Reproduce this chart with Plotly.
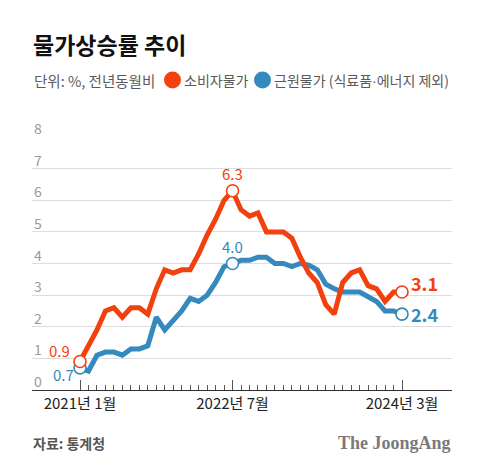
import plotly.graph_objects as go

# ---- data ----
months = [f"{y}-{m:02d}" for y in (2021, 2022, 2023, 2024) for m in range(1, 13)][:39]
cpi = [0.9, 1.4, 1.9, 2.5, 2.6, 2.3, 2.6, 2.6, 2.4, 3.2, 3.8, 3.7,
       3.8, 3.8, 4.3, 4.9, 5.4, 6.0, 6.3, 5.7, 5.5, 5.6, 5.0, 5.0,
       5.0, 4.8, 4.2, 3.7, 3.4, 2.7, 2.4, 3.4, 3.7, 3.8, 3.3, 3.2,
       2.8, 3.1, 3.1]
core = [0.7, 0.6, 1.1, 1.2, 1.2, 1.1, 1.3, 1.3, 1.4, 2.3, 1.9, 2.2,
        2.5, 2.9, 2.8, 3.0, 3.4, 3.9, 4.0, 4.1, 4.1, 4.2, 4.2, 4.0,
        4.0, 3.9, 4.0, 3.95, 3.8, 3.35, 3.2, 3.1, 3.1, 3.1, 2.95, 2.8,
        2.5, 2.5, 2.4]
tick_idx = [0, 18, 38]
tick_text = ["2021년 1월", "2022년 7월", "2024년 3월"]
y_ticks = [0, 1, 2, 3, 4, 5, 6, 7, 8]
mark_idx = [0, 18, 38]

RED = "#F2400F"
BLUE = "#3589BD"
FONT = "Noto Sans CJK KR"

W, H = 480, 473
L, R, T, B = 32, 28, 137, 83
PW, PH = W - L - R, H - T - B

def px(x):
    return (x - L) / PW

def py(y):
    return (H - B - y) / PH

x = list(range(len(months)))

fig = go.Figure()
fig.add_trace(go.Scatter(x=x, y=core, mode="lines",
                         line=dict(color=BLUE, width=5),
                         hoverinfo="skip", showlegend=False))
fig.add_trace(go.Scatter(x=x, y=cpi, mode="lines",
                         line=dict(color=RED, width=5),
                         hoverinfo="skip", showlegend=False))
fig.add_trace(go.Scatter(x=[x[i] for i in mark_idx], y=[core[i] for i in mark_idx],
                         mode="markers",
                         marker=dict(size=12, color="white", line=dict(color=BLUE, width=1.6)),
                         showlegend=False, hoverinfo="skip"))
fig.add_trace(go.Scatter(x=[x[i] for i in mark_idx], y=[cpi[i] for i in mark_idx],
                         mode="markers",
                         marker=dict(size=12, color="white", line=dict(color=RED, width=1.6)),
                         showlegend=False, hoverinfo="skip"))

ann = []
# y tick labels above grid lines
for v in y_ticks:
    ann.append(dict(x=0, xref="paper", xanchor="left", y=v, yref="y", yanchor="bottom",
                    yshift=-3, text=str(v), showarrow=False,
                    font=dict(family=FONT, size=14, color="#9a9a9a")))

# value labels
vals = [
    dict(x=x[0], y=cpi[0], text=f"{cpi[0]:.1f}", xanchor="right", yanchor="bottom",
         xshift=-8, yshift=-1, font=dict(family=FONT, size=15, color=RED)),
    dict(x=x[0], y=core[0], text=f"{core[0]:.1f}", xanchor="right", yanchor="top",
         xshift=-4, yshift=6, font=dict(family=FONT, size=15, color=BLUE)),
    dict(x=x[18], y=cpi[18], text=f"{cpi[18]:.1f}", xanchor="center", yanchor="bottom",
         yshift=5, font=dict(family=FONT, size=15, color=RED)),
    dict(x=x[18], y=core[18], text=f"{core[18]:.1f}", xanchor="center", yanchor="bottom",
         yshift=5, font=dict(family=FONT, size=15, color=BLUE)),
    dict(x=x[38], y=cpi[38], text=f"<b>{cpi[38]:.1f}</b>", xanchor="left", yanchor="middle",
         xshift=7, yshift=9, font=dict(family=FONT, size=18, color=RED)),
    dict(x=x[38], y=core[38], text=f"<b>{core[38]:.1f}</b>", xanchor="left", yanchor="middle",
         xshift=7, font=dict(family=FONT, size=18, color=BLUE)),
]
for a in vals:
    a.update(showarrow=False, xref="x", yref="y")
ann += vals

dot = '<span style="font-family:Liberation Sans">·</span>'
# title, subtitle/legend, source, logo
ann += [
    dict(x=px(31), y=py(44), xref="paper", yref="paper", xanchor="left", yanchor="middle",
         text="<b>물가상승률 추이</b>", showarrow=False,
         font=dict(family=FONT, size=23, color="#111", weight=900)),
    dict(x=px(32), y=py(80), xref="paper", yref="paper", xanchor="left", yanchor="middle",
         text="단위: %, 전년동월비", showarrow=False,
         font=dict(family=FONT, size=14.5, color="#5a5a5a")),
    dict(x=px(182), y=py(80), xref="paper", yref="paper", xanchor="left", yanchor="middle",
         text="소비자물가", showarrow=False,
         font=dict(family=FONT, size=14, color="#5a5a5a")),
    dict(x=px(272), y=py(80), xref="paper", yref="paper", xanchor="left", yanchor="middle",
         text=f"근원물가 (식료품{dot}에너지 제외)", showarrow=False,
         font=dict(family=FONT, size=14, color="#5a5a5a")),
    dict(x=px(31), y=py(443), xref="paper", yref="paper", xanchor="left", yanchor="middle",
         text="<b>자료: 통계청</b>", showarrow=False,
         font=dict(family=FONT, size=14, color="#555")),
    dict(x=px(453), y=py(443), xref="paper", yref="paper", xanchor="right", yanchor="middle",
         text="<b>The JoongAng</b>", showarrow=False,
         font=dict(family="Liberation Serif", size=18, color="#7a7a7a")),
]

shapes = [
    dict(type="circle", xref="paper", yref="paper",
         x0=px(164), x1=px(181), y0=py(88.5), y1=py(71.5),
         fillcolor=RED, line=dict(width=0)),
    dict(type="circle", xref="paper", yref="paper",
         x0=px(254), x1=px(271), y0=py(88.5), y1=py(71.5),
         fillcolor=BLUE, line=dict(width=0)),
]

x_lo = (L - 80) / 8.474
x_hi = (W - R - 80) / 8.474

fig.update_layout(
    width=W, height=H,
    margin=dict(l=L, r=R, t=T, b=B, pad=0),
    paper_bgcolor="white", plot_bgcolor="white",
    showlegend=False,
    annotations=ann, shapes=shapes,
    xaxis=dict(range=[x_lo, x_hi], showgrid=False, zeroline=False,
               tickmode="array", tickvals=tick_idx, ticktext=tick_text,
               ticks="inside", ticklen=10, tickcolor="#555", tickwidth=1,
               showline=True, linecolor="#333", linewidth=1.2,
               tickfont=dict(family=FONT, size=15, color="#222"),
               minor=dict(tickmode="array", tickvals=x, ticks="inside",
                          ticklen=5, tickcolor="#555", tickwidth=1, showgrid=False),
               fixedrange=True),
    yaxis=dict(range=[0, 8], tickvals=y_ticks, showticklabels=False,
               showgrid=True, gridcolor="#dddddd", gridwidth=1,
               zeroline=False, showline=False, fixedrange=True),
)

fig.write_html("out.html", config={"displayModeBar": False},
               post_script="document.body.style.margin='0px';")
